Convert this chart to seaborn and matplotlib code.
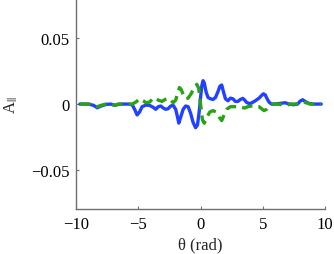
import matplotlib
matplotlib.use("Agg")
import matplotlib.pyplot as plt
import seaborn as sns
import pandas as pd

sns.set_style("white")
plt.rcParams['font.family'] = ['Liberation Serif', 'DejaVu Serif']
plt.rcParams['mathtext.fontset'] = 'stix'

# blue solid curve
theta_blue = [-9.7, -9.0, -8.6, -8.3, -8.0, -7.6, -7.2, -6.9, -6.6, -6.2, -5.8, -5.5, -5.3,
              -5.1, -4.9, -4.7, -4.4, -4.1, -3.8, -3.6, -3.4, -3.2, -3.0, -2.8, -2.6, -2.4,
              -2.2, -2.0, -1.85, -1.75, -1.6, -1.4, -1.2, -1.0, -0.8, -0.6, -0.4, -0.25,
              -0.1, 0.0, 0.1, 0.2, 0.3, 0.45, 0.6, 0.8, 1.0, 1.2, 1.4, 1.55, 1.7, 1.85,
              2.0, 2.2, 2.4, 2.6, 2.8, 3.0, 3.2, 3.4, 3.55, 3.7, 3.9, 4.1, 4.4, 4.7, 4.9,
              5.05, 5.2, 5.35, 5.5, 5.7, 6.0, 6.4, 6.8, 7.1, 7.5, 7.8, 8.0, 8.2, 8.4, 8.7,
              9.0, 9.4, 9.7]
a_blue = [0.0, 0.0, -0.001, -0.0028, -0.0015, -0.0003, 0.0, -0.001, -0.0002, 0.0, 0.0,
          -0.0005, -0.004, -0.0083, -0.006, -0.002, -0.0008, -0.001, -0.0025, -0.004,
          -0.002, -0.0015, -0.003, -0.004, -0.0035, -0.0015, -0.001, -0.004, -0.01,
          -0.0145, -0.01, -0.004, -0.0015, -0.002, -0.007, -0.014, -0.018, -0.016, -0.005,
          0.005, 0.014, 0.0178, 0.016, 0.009, 0.005, 0.004, 0.0035, 0.005, 0.0095, 0.0135,
          0.0145, 0.009, 0.004, 0.0025, 0.0045, 0.004, 0.002, 0.002, 0.0035, 0.0043,
          0.003, 0.0012, 0.0005, 0.0008, 0.0025, 0.0045, 0.0065, 0.0078, 0.007, 0.004,
          0.0015, 0.0, 0.0, 0.0005, 0.001, 0.0, -0.0005, 0.0, 0.0022, 0.0033, 0.002, 0.0005,
          0.0, 0.0, 0.0]

# green dashed curve
theta_green = [-9.7, -9.0, -8.6, -8.3, -8.0, -7.6, -7.2, -6.9, -6.6, -6.2, -5.8, -5.5, -5.2,
               -4.9, -4.6, -4.4, -4.1, -3.85, -3.65, -3.4, -3.1, -2.85, -2.6, -2.4, -2.2,
               -2.0, -1.85, -1.7, -1.55, -1.35, -1.2, -1.0, -0.75, -0.5, -0.3, -0.15, 0.0,
               0.15, 0.3, 0.5, 0.75, 1.0, 1.25, 1.5, 1.7, 1.9, 2.1, 2.4, 2.7, 3.0, 3.3, 3.55,
               3.8, 4.1, 4.4, 4.7, 4.9, 5.1, 5.3, 5.5, 5.8, 6.2, 6.6, 6.9, 7.2, 7.6, 7.9,
               8.2, 8.5, 8.8, 9.2, 9.7]
a_green = [0.0, 0.0, -0.001, -0.002, -0.001, 0.0, 0.0, -0.001, 0.0, 0.0, 0.0, 0.0, 0.0015,
           0.004, 0.0025, 0.001, 0.0015, 0.004, 0.0048, 0.003, 0.002, 0.0035, 0.0045, 0.003,
           0.001, 0.003, 0.008, 0.0126, 0.011, 0.006, 0.004, 0.0045, 0.008, 0.013, 0.015,
           0.012, 0.0, -0.012, -0.0146, -0.01, -0.006, -0.005, -0.006, -0.01, -0.0126,
           -0.008, -0.004, -0.002, -0.002, -0.002, -0.0025, -0.003, -0.002, -0.0015,
           -0.0015, -0.002, -0.0035, -0.005, -0.004, -0.0015, 0.0, 0.0, -0.0005, -0.001,
           0.0, 0.0, 0.0005, 0.0015, 0.001, 0.0, 0.0, 0.0]

blue = pd.DataFrame({"theta": theta_blue, "a": a_blue})
green = pd.DataFrame({"theta": theta_green, "a": a_green})

fig = plt.figure(figsize=(3.34, 2.55), dpi=100)
ax = fig.add_axes([0.228, 0.176, 0.745, 0.824])

sns.lineplot(data=blue, x="theta", y="a", ax=ax, color="#2140ff", lw=2.4, sort=False)
sns.lineplot(data=green, x="theta", y="a", ax=ax, color="#2aa312", lw=2.4, sort=False,
             dashes=False, linestyle=(0, (3.2, 1.8)))

ax.set_xlim(-10, 10)
ax.set_ylim(-0.08, 0.08)
ax.set_xticks([-10, -5, 0, 5, 10])
ax.set_xticklabels(["\u221210", "\u22125", "0", "5", "10"])
ax.set_yticks([-0.05, 0, 0.05])
ax.set_yticklabels(["\u22120.05", "0", "0.05"])
ax.tick_params(direction="in", length=2, width=0.8, colors="#707070", labelcolor="black",
               labelsize=12, pad=5, left=True, bottom=True)
for s in ["top", "right"]:
    ax.spines[s].set_visible(False)
for s in ["left", "bottom"]:
    ax.spines[s].set_color("#707070")
    ax.spines[s].set_linewidth(1.0)

ax.set_xlabel("\u03b8 (rad)", fontsize=12, labelpad=3)
ax.set_ylabel(r"A$_{||}$", fontsize=12)
ax.yaxis.set_label_coords(-0.225, 0.5)

fig.savefig("out.png", dpi=100)
